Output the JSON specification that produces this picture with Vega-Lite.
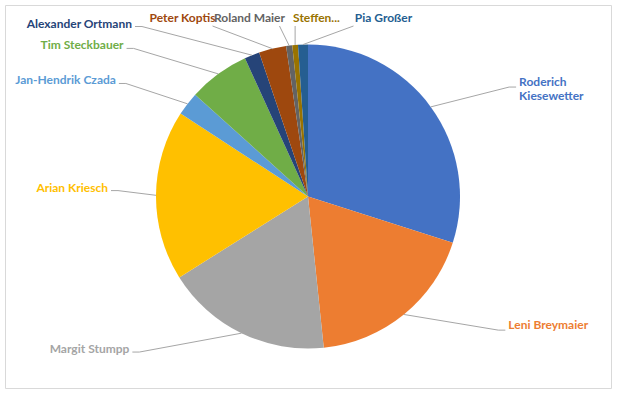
{
  "$schema": "https://vega.github.io/schema/vega-lite/v6.json",
  "width": 606,
  "height": 383,
  "autosize": {"type": "none"},
  "padding": {"left": 5, "top": 5, "right": 10, "bottom": 6},
  "background": "white",
  "config": {"view": {"stroke": "#d9d9d9", "strokeWidth": 1}},
  "data": {
    "values": [
      {"name": "Roderich Kiesewetter", "label": "Roderich\nKiesewetter", "value": 29.9},
      {"name": "Leni Breymaier", "label": "Leni Breymaier", "value": 18.4},
      {"name": "Margit Stumpp", "label": "Margit Stumpp", "value": 17.7},
      {"name": "Arian Kriesch", "label": "Arian Kriesch", "value": 18.1},
      {"name": "Jan-Hendrik Czada", "label": "Jan-Hendrik Czada", "value": 2.5},
      {"name": "Tim Steckbauer", "label": "Tim Steckbauer", "value": 6.5},
      {"name": "Alexander Ortmann", "label": "Alexander Ortmann", "value": 1.6},
      {"name": "Peter Koptis", "label": "Peter Koptis", "value": 2.9},
      {"name": "Roland Maier", "label": "Roland Maier", "value": 0.65},
      {"name": "Steffen...", "label": "Steffen...", "value": 0.6},
      {"name": "Pia Großer", "label": "Pia Großer", "value": 1.05}
    ]
  },
  "transform": [
    {"window": [{"op": "row_number", "as": "i"}]},
    {"window": [{"op": "sum", "field": "value", "as": "cum"}], "sort": [{"field": "i"}], "frame": [null, 0]},
    {"joinaggregate": [{"op": "sum", "field": "value", "as": "total"}]},
    {"calculate": "2*PI*(datum.cum - datum.value/2)/datum.total", "as": "m"},
    {"calculate": "sin(datum.m)", "as": "s"},
    {"calculate": "cos(datum.m)", "as": "c"},
    {"calculate": "datum.c > 0.95 ? 1 : 0", "as": "top"},
    {"window": [{"op": "sum", "field": "top", "as": "topRank"}], "sort": [{"field": "i"}], "frame": [null, 0]},
    {"calculate": "datum.top ? 'top' : (datum.s < 0 ? 'left' : 'right')", "as": "side"},
    {"calculate": "303 + 152*datum.s", "as": "px"},
    {"calculate": "191.5 - 152*datum.c", "as": "py"},
    {"calculate": "datum.side=='left' ? 293 - 152*(1+0.25*abs(datum.s)) : datum.side=='right' ? 313 + 152*(1+0.4*abs(datum.s)) : 278 + (datum.topRank-2.5)*67", "as": "lx"},
    {"calculate": "datum.side=='top' ? 13 : 187 - 178*datum.c", "as": "ly"},
    {"calculate": "datum.side=='left' ? datum.lx+3 : datum.side=='right' ? datum.lx-3 : clamp(datum.px, datum.lx-30, datum.lx+30)", "as": "ex"},
    {"calculate": "datum.side=='top' ? datum.ly+8 : datum.ly", "as": "ey"},
    {"calculate": "datum.side=='left' ? datum.lx+10 : datum.side=='right' ? datum.lx-10 : datum.ex", "as": "kx"}
  ],
  "layer": [
    {
      "mark": {"type": "arc", "outerRadius": 152},
      "encoding": {
        "theta": {"field": "value", "type": "quantitative", "stack": true},
        "order": {"field": "i", "type": "quantitative"},
        "color": {
          "field": "name",
          "type": "nominal",
          "legend": null,
          "scale": {
            "domain": ["Roderich Kiesewetter", "Leni Breymaier", "Margit Stumpp", "Arian Kriesch", "Jan-Hendrik Czada", "Tim Steckbauer", "Alexander Ortmann", "Peter Koptis", "Roland Maier", "Steffen...", "Pia Großer"],
            "range": ["#4472C4", "#ED7D31", "#A5A5A5", "#FFC000", "#5B9BD5", "#70AD47", "#264478", "#9E480E", "#636363", "#997300", "#255E91"]
          }
        }
      }
    },
    {
      "mark": {"type": "rule", "color": "#a6a6a6", "strokeWidth": 1},
      "encoding": {
        "x": {"field": "px", "type": "quantitative", "axis": null, "scale": {"domain": [0, 606], "nice": false, "zero": false}},
        "y": {"field": "py", "type": "quantitative", "axis": null, "scale": {"domain": [0, 383], "nice": false, "zero": false, "reverse": true}},
        "x2": {"field": "kx"},
        "y2": {"field": "ey"}
      }
    },
    {
      "mark": {"type": "rule", "color": "#a6a6a6", "strokeWidth": 1},
      "encoding": {
        "x": {"field": "kx", "type": "quantitative"},
        "y": {"field": "ey", "type": "quantitative"},
        "x2": {"field": "ex"},
        "y2": {"field": "ey"}
      }
    },
    {
      "transform": [{"filter": "datum.side == 'left'"}],
      "mark": {"type": "text", "align": "right", "baseline": "middle", "dy": -3, "font": "Lato", "fontWeight": "bold", "fontSize": 12},
      "encoding": {
        "x": {"field": "lx", "type": "quantitative"},
        "y": {"field": "ly", "type": "quantitative"},
        "text": {"field": "label"},
        "color": {"field": "name", "type": "nominal", "legend": null}
      }
    },
    {
      "transform": [{"filter": "datum.side == 'right'"}],
      "mark": {"type": "text", "align": "left", "baseline": "middle", "dy": -5, "font": "Lato", "fontWeight": "bold", "fontSize": 12, "lineBreak": "\n"},
      "encoding": {
        "x": {"field": "lx", "type": "quantitative"},
        "y": {"field": "ly", "type": "quantitative"},
        "text": {"field": "label"},
        "color": {"field": "name", "type": "nominal", "legend": null}
      }
    },
    {
      "transform": [{"filter": "datum.side == 'top'"}],
      "mark": {"type": "text", "align": "center", "baseline": "middle", "font": "Lato", "fontWeight": "bold", "fontSize": 12},
      "encoding": {
        "x": {"field": "lx", "type": "quantitative"},
        "y": {"field": "ly", "type": "quantitative"},
        "text": {"field": "label"},
        "color": {"field": "name", "type": "nominal", "legend": null}
      }
    }
  ]
}
